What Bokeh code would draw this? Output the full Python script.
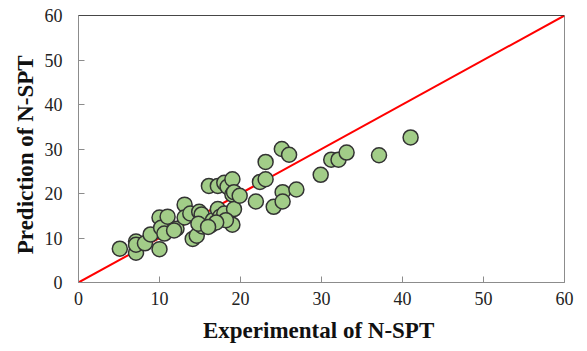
from bokeh.plotting import figure
from bokeh.models import ColumnDataSource, Span, FixedTicker
from bokeh.embed import file_html
from bokeh.resources import INLINE

experimental = [5.1, 7.1, 7.1, 7.1, 8.2, 8.9, 10.0, 10.0, 10.2, 11.0, 10.6, 12.1, 11.8,
                13.1, 13.1, 13.8, 14.1, 14.6, 14.9, 15.2, 15.3, 14.8,
                16.1, 16.3, 16.6, 17.2, 17.2, 17.5, 18.0, 18.0, 18.4, 19.0, 19.0, 19.2, 19.0,
                19.2, 19.9, 18.2, 17.0, 16.0,
                21.9, 22.4, 23.1, 23.1, 24.1, 25.1, 25.2, 25.2, 26.0, 26.9,
                29.9, 31.2, 32.1, 33.1, 37.1, 41.0]
prediction = [7.6, 9.2, 6.7, 8.5, 8.8, 10.8, 7.5, 14.6, 12.3, 14.8, 11.0, 12.1, 11.7,
              17.5, 14.6, 15.5, 9.8, 10.5, 15.9, 15.3, 12.6, 13.2,
              21.7, 12.8, 14.0, 21.7, 16.5, 14.8, 22.4, 15.5, 21.5, 23.2, 19.8, 16.5, 13.0,
              20.3, 19.5, 14.0, 13.5, 12.5,
              18.2, 22.6, 27.1, 23.2, 17.0, 30.0, 20.3, 18.2, 28.7, 20.9,
              24.2, 27.6, 27.6, 29.2, 28.6, 32.6]
line_x = [0, 60]
line_y = [0, 60]
ticks = [0, 10, 20, 30, 40, 50, 60]

src = ColumnDataSource(dict(x=experimental, y=prediction))

p = figure(width=578, height=345, output_backend="svg", toolbar_location=None,
           x_range=(0, 60), y_range=(0, 60),
           min_border_left=78, min_border_right=14, min_border_top=15, min_border_bottom=63)
p.xgrid.visible = False
p.ygrid.visible = False
p.outline_line_color = "#8c8c8c"
p.background_fill_color = "white"

p.line(line_x, line_y, line_color="#ff0000", line_width=2)
p.scatter("x", "y", source=src, size=15, fill_color="#a2cd88",
          line_color="#333333", line_width=1.5)

p.add_layout(Span(location=60, dimension="width", line_color="black", line_width=1))

for ax in (p.xaxis[0], p.yaxis[0]):
    ax.ticker = FixedTicker(ticks=ticks)
    ax.axis_line_color = "#8c8c8c"
    ax.major_tick_line_color = "#8c8c8c"
    ax.major_tick_in = 6
    ax.major_tick_out = 0
    ax.minor_tick_line_color = None
    ax.major_label_text_font = "Liberation Serif"
    ax.major_label_text_font_size = "18px"
    ax.major_label_text_color = "#222222"
    ax.axis_label_text_font = "Liberation Serif"
    ax.axis_label_text_font_style = "bold"
    ax.axis_label_text_color = "#111111"

p.xaxis.axis_label = "Experimental  of N-SPT"
p.yaxis.axis_label = "Prediction  of  N-SPT"
p.xaxis.axis_label_text_font_size = "23px"
p.yaxis.axis_label_text_font_size = "23px"
p.xaxis.major_label_standoff = 9
p.yaxis.major_label_standoff = 16
p.xaxis.axis_label_standoff = 10
p.yaxis.axis_label_standoff = 4

open("out.html", "w").write(file_html(p, INLINE))
